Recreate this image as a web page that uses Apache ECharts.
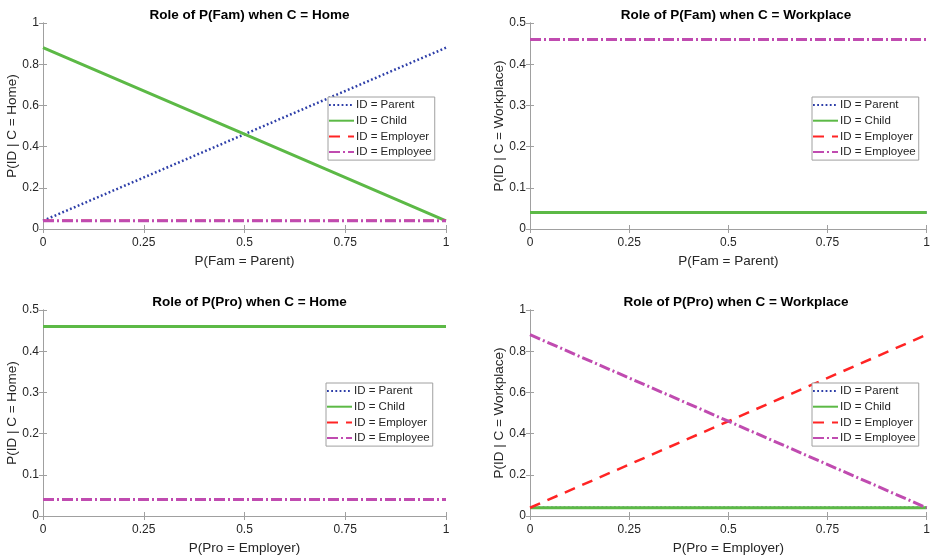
<!DOCTYPE html>
<html>
<head>
<meta charset="utf-8">
<script src="https://cdn.jsdelivr.net/npm/echarts@6/dist/echarts.min.js"></script>
<style>
html,body{margin:0;padding:0;background:#fff;}
#chart{width:933px;height:558px;}
</style>
</head>
<body>
<div id="chart"></div>
<script>
// ---- data ----
const xPoints = [0, 0.5, 1];
const seriesNames = ['ID = Parent', 'ID = Child', 'ID = Employer', 'ID = Employee'];
const panelTitles = ['Role of P(Fam) when C = Home', 'Role of P(Fam) when C = Workplace',
                     'Role of P(Pro) when C = Home', 'Role of P(Pro) when C = Workplace'];
const xAxisLabels = ['P(Fam = Parent)', 'P(Fam = Parent)', 'P(Pro = Employer)', 'P(Pro = Employer)'];
const yAxisLabels = ['P(ID | C = Home)', 'P(ID | C = Workplace)', 'P(ID | C = Home)', 'P(ID | C = Workplace)'];
const yMax = [1, 0.5, 0.5, 1];
const yStep = [0.2, 0.1, 0.1, 0.2];
const xStep = 0.25;

// values per panel: [Parent, Child, Employer, Employee]
const famHome      = [[0.04, 0.46, 0.88], [0.88, 0.46, 0.04], [0.04, 0.04, 0.04], [0.04, 0.04, 0.04]];
const famWorkplace = [[0.04, 0.04, 0.04], [0.04, 0.04, 0.04], [0.46, 0.46, 0.46], [0.46, 0.46, 0.46]];
const proHome      = [[0.46, 0.46, 0.46], [0.46, 0.46, 0.46], [0.04, 0.04, 0.04], [0.04, 0.04, 0.04]];
const proWorkplace = [[0.04, 0.04, 0.04], [0.04, 0.04, 0.04], [0.04, 0.46, 0.88], [0.88, 0.46, 0.04]];
const panelValues = [famHome, famWorkplace, proHome, proWorkplace];

// ---- styles ----
const FONT = 'Liberation Sans, Arial, sans-serif';
const lineStyles = [
  {color: '#2d3ea8', width: 2.5, type: [1.8, 2.4], cap: 'butt'},
  {color: '#5cb946', width: 3, type: 'solid'},
  {color: '#ff2424', width: 2.5, type: [11, 8]},
  {color: '#c04bb0', width: 3, type: [11, 3, 2, 3]}
];
const grids = [
  {left: 43, top: 23, width: 403, height: 206},
  {left: 530, top: 23, width: 402, height: 206},
  {left: 43, top: 310, width: 403, height: 206},
  {left: 530, top: 310, width: 402, height: 206}
];
const legendPos = [
  {left: 328, top: 97}, {left: 812, top: 97},
  {left: 326, top: 383}, {left: 812, top: 383}
];
const AXIS_COLOR = '#a0a0a0';
const TEXT_COLOR = '#262626';

const option = {
  backgroundColor: '#fff',
  animation: false,
  title: [], grid: [], xAxis: [], yAxis: [], series: [], legend: []
};

for (let p = 0; p < 4; p++) {
  const g = grids[p];
  option.grid.push(Object.assign({containLabel: false}, g));
  option.title.push({
    text: panelTitles[p],
    left: g.left + g.width / 2, top: g.top - 20, textAlign: 'center',
    textStyle: {fontFamily: FONT, fontSize: 13.5, fontWeight: 'bold', color: '#000'}
  });
  const xi = option.xAxis.length;
  const common = {
    type: 'value', gridIndex: p, min: 0, max: 1, interval: xStep,
    axisLine: {show: true, lineStyle: {color: AXIS_COLOR, width: 1}},
    axisTick: {show: true, inside: true, length: 4, lineStyle: {color: AXIS_COLOR}},
    splitLine: {show: false}
  };
  option.xAxis.push(Object.assign({}, common, {
    position: 'bottom',
    name: xAxisLabels[p], nameLocation: 'middle', nameGap: 25, nameMoveOverlap: false,
    nameTextStyle: {fontFamily: FONT, fontSize: 13.5, color: TEXT_COLOR},
    axisLabel: {fontFamily: FONT, fontSize: 12, color: TEXT_COLOR, margin: 8,
      formatter: v => String(+v.toFixed(2))}
  }));
  option.xAxis.push(Object.assign({}, common, {position: 'top', axisLabel: {show: false}}));
  const yi = option.yAxis.length;
  const ycommon = {
    type: 'value', gridIndex: p, min: 0, max: yMax[p], interval: yStep[p],
    axisLine: {show: true, lineStyle: {color: AXIS_COLOR, width: 1}},
    axisTick: {show: true, inside: true, length: 4, lineStyle: {color: AXIS_COLOR}},
    splitLine: {show: false}
  };
  option.yAxis.push(Object.assign({}, ycommon, {
    position: 'left',
    name: yAxisLabels[p], nameLocation: 'middle', nameGap: 23.5, nameRotate: 90, nameMoveOverlap: false,
    nameTextStyle: {fontFamily: FONT, fontSize: 13.5, color: TEXT_COLOR},
    axisLabel: {fontFamily: FONT, fontSize: 12, color: TEXT_COLOR, margin: 4,
      formatter: v => String(+v.toFixed(2))}
  }));
  option.yAxis.push(Object.assign({}, ycommon, {position: 'right', axisLabel: {show: false}}));

  for (let s = 0; s < 4; s++) {
    option.series.push({
      type: 'line', name: seriesNames[s], xAxisIndex: xi, yAxisIndex: yi,
      data: xPoints.map((x, i) => [x, panelValues[p][s][i]]),
      symbol: 'none', silent: true,
      lineStyle: lineStyles[s],
      itemStyle: {color: lineStyles[s].color},
      z: 2 + s
    });
  }
  option.legend.push({
    data: seriesNames, orient: 'vertical',
    left: legendPos[p].left, top: legendPos[p].top,
    backgroundColor: '#fff', borderColor: '#a0a0a0', borderWidth: 1,
    padding: [2, 3, 2, 0],
    itemWidth: 25, itemHeight: 11, itemGap: 3.7,
    itemStyle: {opacity: 0},
    selectedMode: false,
    textStyle: {fontFamily: FONT, fontSize: 11.5, color: TEXT_COLOR, padding: [0, 0, 0, -3]},
    z: 10
  });
}

const chart = echarts.init(document.getElementById('chart'), null, {renderer: 'canvas'});
chart.setOption(option);
</script>
</body>
</html>
